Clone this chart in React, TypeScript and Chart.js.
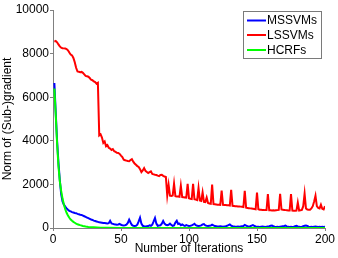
import React, { useEffect, useRef } from "react";
import { Chart, registerables } from "chart.js";

Chart.register(...registerables);

const seriesNames = ["MSSVMs", "LSSVMs", "HCRFs"];
const seriesColors = ["#0000ff", "#ff0000", "#00ff00"];

const xTicks = [0, 50, 100, 150, 200];
const yTicks = [0, 2000, 4000, 6000, 8000, 10000];

// MSSVMs: one value per iteration 1..200
const mssvmValues = [
  6650, 5300, 4000, 3000, 2200, 1550, 1220, 1070, 980, 900,
  840, 790, 760, 730, 710, 690, 680, 650, 630, 610,
  600, 570, 540, 510, 480, 450, 420, 390, 370, 340,
  320, 300, 280, 260, 250, 240, 230, 225, 220, 210,
  220, 330, 210, 190, 170, 160, 150, 160, 190, 150,
  130, 120, 130, 150, 230, 380, 250, 140, 100, 90,
  100, 150, 300, 470, 200, 100, 80, 70, 80, 90,
  120, 100, 150, 300, 460, 200, 100, 110, 120, 200,
  320, 200, 150, 130, 150, 200, 140, 100, 120, 250,
  330, 180, 200, 130, 160, 120, 100, 130, 110, 90,
  100, 120, 150, 190, 130, 100, 90, 100, 120, 160,
  180, 120, 100, 90, 100, 110, 150, 120, 90, 80,
  70, 70, 80, 70, 60, 70, 80, 100, 130, 160,
  110, 80, 70, 60, 60, 70, 60, 70, 80, 90,
  140, 110, 80, 70, 80, 110, 130, 100, 70, 60,
  60, 50, 60, 70, 60, 50, 60, 70, 80, 100,
  110, 80, 60, 50, 60, 50, 60, 70, 80, 90,
  110, 70, 60, 50, 60, 50, 60, 80, 100, 70,
  60, 50, 60, 80, 100, 110, 90, 60, 50, 60,
  50, 60, 70, 60, 50, 60, 50, 60, 50, 60,
];

// LSSVMs: one value per iteration 1..200
const lssvmValues = [
  8550, 8580, 8520, 8420, 8330, 8270, 8250, 8240, 8230, 8210,
  8150, 8050, 7960, 7920, 7800, 7600, 7350, 7180, 7170, 7150,
  7160, 7120, 7050, 6980, 6960, 6940, 6880, 6800, 6780, 6720,
  6690, 6620, 6660, 4250, 4300, 4150, 3900, 3970, 3750, 3800,
  3680, 3640, 3580, 3620, 3520, 3490, 3450, 3440, 3400, 3320,
  3250, 3130, 3110, 3090, 3070, 3060, 3120, 3160, 3040, 2960,
  2900, 2840, 2800, 2700, 2560, 2640, 2750, 2620, 2570, 2520,
  2560, 2600, 2480, 2460, 2440, 2430, 2400, 2380, 2430, 2440,
  2390, 2360, 2340, 1500, 1980, 1480, 1470, 1490, 2030, 1460,
  1450, 1440, 1430, 1940, 1420, 1410, 1400, 1390, 2030, 1360,
  1340, 1330, 2030, 1320, 1300, 1280, 1830, 1260, 1240, 1630,
  1200, 1190, 1400, 1150, 1120, 1110, 1990, 1100, 1090, 1080,
  1070, 1070, 1060, 1720, 1060, 1050, 1050, 1040, 1040, 1030,
  1750, 1020, 1010, 1000, 1000, 990, 990, 980, 970, 960,
  1700, 930, 920, 910, 900, 890, 880, 870, 860, 1630,
  860, 840, 840, 830, 830, 820, 820, 1560, 810, 810,
  800, 810, 800, 810, 820, 830, 1570, 850, 840, 830,
  820, 810, 800, 800, 1560, 800, 790, 790, 800, 1170,
  800, 810, 830, 1000, 1570, 900, 850, 840, 840, 900,
  1000, 1220, 1480, 1000, 920, 900, 1070, 880, 850, 1000,
];

// HCRFs: sampled iterations and values
const hcrfIterations = [1, 2, 3, 4, 5, 6, 7, 8, 9, 10, 11, 12, 13, 14, 15, 16, 17, 18, 19, 20, 22, 24, 26, 28, 30, 35, 40, 50, 70, 100, 150, 200];
const hcrfValues = [6400, 5200, 3900, 2850, 2150, 1700, 1350, 1080, 860, 700, 570, 470, 390, 330, 280, 240, 200, 170, 150, 130, 95, 70, 50, 38, 30, 15, 8, 4, 2, 1, 1, 1];

const xTitle = "Number of Iterations";
const yTitle = "Norm of (Sub-)gradient";

const FONT = "'Liberation Sans', Arial, Helvetica, sans-serif";

const toPoints = (xs: number[], ys: number[]) => ys.map((y, i) => ({ x: xs[i], y }));
const perIteration = (vals: number[]) => vals.map((_, i) => i + 1);

const overlayPlugin = {
  id: "overlay",
  afterDraw(chart: any) {
    const ctx = chart.ctx as CanvasRenderingContext2D;
    const area = chart.chartArea;
    ctx.save();
    ctx.fillStyle = "#000";
    ctx.font = `12px ${FONT}`;
    ctx.textAlign = "center";
    ctx.textBaseline = "middle";
    ctx.fillText(xTitle, (area.left + area.right) / 2, 249);
    ctx.save();
    ctx.translate(8, (area.top + area.bottom) / 2);
    ctx.rotate(-Math.PI / 2);
    ctx.fillText(yTitle, 0, 0);
    ctx.restore();
    // legend
    const bx = 243.5, by = 11.5, bw = 78, bh = 47;
    ctx.fillStyle = "#fff";
    ctx.fillRect(bx, by, bw, bh);
    ctx.strokeStyle = "#7a7a7a";
    ctx.lineWidth = 1;
    ctx.strokeRect(bx, by, bw, bh);
    const rowY = [20.5, 35, 50];
    seriesNames.forEach((name, i) => {
      ctx.strokeStyle = seriesColors[i];
      ctx.lineWidth = 2;
      ctx.beginPath();
      ctx.moveTo(247, rowY[i]);
      ctx.lineTo(266, rowY[i]);
      ctx.stroke();
      ctx.fillStyle = "#000";
      ctx.textAlign = "left";
      ctx.textBaseline = "middle";
      ctx.fillText(name, 267, rowY[i] + 0.5);
    });
    ctx.restore();
  },
};

export default function App() {
  const canvasRef = useRef<HTMLCanvasElement | null>(null);

  useEffect(() => {
    const canvas = canvasRef.current;
    if (!canvas) return;
    const chart = new Chart(canvas, {
      type: "line",
      data: {
        datasets: [
          {
            label: seriesNames[0],
            data: toPoints(perIteration(mssvmValues), mssvmValues),
            borderColor: seriesColors[0],
            borderWidth: 2,
            pointRadius: 0,
            tension: 0,
            order: 2,
          },
          {
            label: seriesNames[1],
            data: toPoints(perIteration(lssvmValues), lssvmValues),
            borderColor: seriesColors[1],
            borderWidth: 2,
            pointRadius: 0,
            tension: 0,
            order: 1,
          },
          {
            label: seriesNames[2],
            data: toPoints(hcrfIterations, hcrfValues),
            borderColor: seriesColors[2],
            borderWidth: 2,
            pointRadius: 0,
            tension: 0,
            order: 0,
          },
        ],
      },
      options: {
        animation: false,
        responsive: false,
        devicePixelRatio: 1,
        layout: { padding: { top: 10, right: 13, left: 0, bottom: 0 } },
        plugins: {
          legend: { display: false },
          tooltip: { enabled: false },
          title: { display: false },
        },
        scales: {
          x: {
            type: "linear",
            min: 0,
            max: 200,
            afterBuildTicks: (s: any) => {
              s.ticks = xTicks.map((v) => ({ value: v }));
            },
            ticks: {
              color: "#000",
              font: { family: FONT, size: 12 },
              padding: 1,
              maxRotation: 0,
              callback: (v: any) => String(v),
            },
            grid: { drawOnChartArea: false, drawTicks: true, tickLength: 3, color: "#808080" },
            border: { color: "#808080", width: 1 },
            afterFit: (s: any) => {
              s.height = 30;
            },
          },
          y: {
            type: "linear",
            min: 0,
            max: 10000,
            afterBuildTicks: (s: any) => {
              s.ticks = yTicks.map((v) => ({ value: v }));
            },
            ticks: {
              color: "#000",
              font: { family: FONT, size: 12 },
              padding: 1,
              callback: (v: any) => String(v),
            },
            grid: { drawOnChartArea: false, drawTicks: true, tickLength: 3, color: "#808080" },
            border: { color: "#808080", width: 1 },
            afterFit: (s: any) => {
              s.width = 53;
            },
          },
        },
      },
      plugins: [overlayPlugin],
    } as any);
    return () => chart.destroy();
  }, []);

  return (
    <div style={{ position: "fixed", left: 0, top: 0, width: 338, height: 258, background: "#fff" }}>
      <canvas ref={canvasRef} width={338} height={258} style={{ display: "block", width: 338, height: 258 }} />
    </div>
  );
}
